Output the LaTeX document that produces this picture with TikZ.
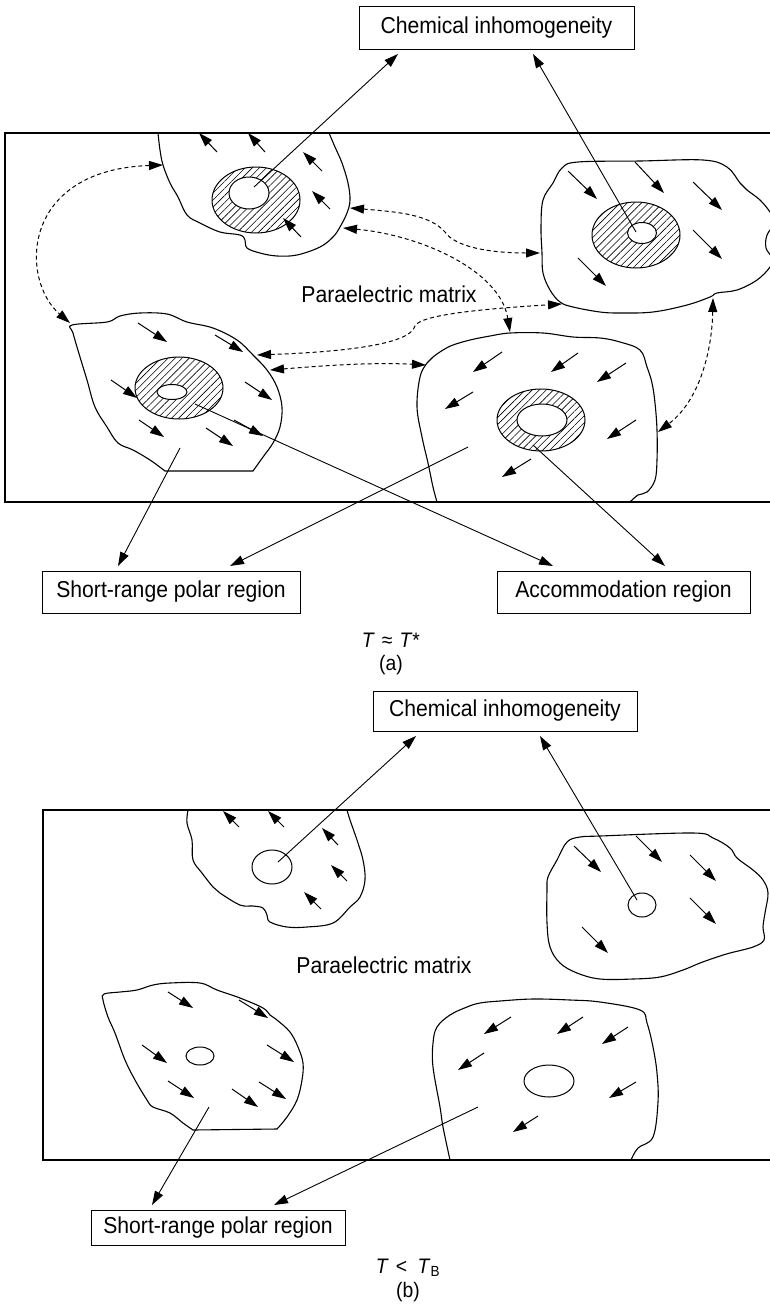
\documentclass[tikz,border=0pt]{standalone}
\usepackage{fontspec}
\setmainfont{Liberation Sans}[FakeStretch=0.92]
\usetikzlibrary{arrows.meta,patterns.meta}

\begin{document}
\begin{tikzpicture}[x=1pt, y=-1pt,
    >={Triangle[length=14pt,width=9pt]},
    txt/.style={font=\fontsize{23}{27}\selectfont},
    captext/.style={font=\fontsize{21}{25}\selectfont},
    box/.style={draw, line width=1pt, txt, inner sep=0pt, outer sep=5pt},
    frame/.style={line width=1.3pt},
    blob/.style={line width=1.1pt},
    pol/.style={->, line width=1pt},
    conn/.style={->, line width=0.9pt},
    link/.style={<->, line width=1pt, dash pattern=on 4pt off 3pt},
    ring/.style={line width=1pt, pattern={Lines[angle=45,distance=5pt,line width=0.6pt]}},
    core/.style={line width=1pt, fill=white}]
    \path[use as bounding box] (0,0) rectangle (770,1304);
    \clip (0,0) rectangle (770,1304);

    % (a) T close to T*
    \draw[frame] (5,133) rectangle (790,502);
    \node[box, minimum width=275pt, minimum height=43pt] (chemA) at (496.5,27.5) {Chemical inhomogeneity};
    \node[box, minimum width=258pt, minimum height=42pt] (shortA) at (171,592) {Short-range polar region};
    \node[box, minimum width=253pt, minimum height=42pt] (accA) at (623.5,592) {Accommodation region};
    \node[txt] (matrixA) at (389,294) {Paraelectric matrix};
    \node[captext] (tempA) at (391,640) {\textit{T}\,\,≈\,\,\textit{T}*};
    \node[captext] (capA) at (391,665) {(a)};

    \draw[blob] plot[smooth, tension=0.6] coordinates {(158,133) (160,150) (163,165) (170,183) (178,197) (187,215) (200,223) (220,232) (240,235) (245,240) (247,248) (260,253) (277,256) (297,255) (320,247) (333,237) (340,227) (347,213) (350,200) (348,183) (342,163) (335,147) (329,133)};
    \draw[blob] plot[smooth cycle, tension=0.6] coordinates {(562,168) (578,162) (640,161) (703,160) (727,167) (740,183) (747,190) (760,200) (770,212) (775,222) (767,235) (766,248) (772,258) (770,267) (757,280) (737,290) (717,293) (710,297) (687,305) (653,312) (620,313) (600,312) (573,307) (560,302) (550,290) (543,273) (542,253) (541,227) (543,200) (553,183)};
    \draw[blob] plot[smooth, tension=0.6] coordinates {(165,471) (150,460) (133,450) (118,443) (107,427) (95,407) (87,380) (80,357) (73,333) (72,325) (107,322) (120,316) (140,313) (167,314) (187,322) (213,328) (237,340) (253,355) (267,370) (277,387) (282,407) (280,427) (273,443) (263,457) (253,471)} -- cycle;
    \draw[blob] plot[smooth, tension=0.6] coordinates {(437,502) (433,487) (428,463) (422,437) (417,407) (420,377) (427,363) (433,357) (443,350) (453,345) (470,340) (490,336) (510,333) (543,333) (573,337) (600,338) (620,342) (640,350) (647,367) (652,383) (655,403) (657,430) (657,460) (655,480) (647,492) (638,495) (630,502)};

    \draw[ring] (256,200) ellipse [x radius=44, y radius=33];
    \draw[core] (249,193) ellipse [x radius=20, y radius=16];
    \draw[ring] (636,235) ellipse [x radius=44, y radius=33];
    \draw[core] (642,233) ellipse [x radius=14.5, y radius=10.5];
    \draw[ring] (179,388) ellipse [x radius=44, y radius=31];
    \draw[core] (172,392) ellipse [x radius=15, y radius=7.5];
    \draw[ring] (541,420) ellipse [x radius=44, y radius=31];
    \draw[core] (542,420) ellipse [x radius=25, y radius=16];

    \path[pol] (217,152) edge (199,133) (265,152) edge (248,133) (322,171) edge (303,152)
        (330,209) edge (312,191) (301,237) edge (283,218);
    \path[pol] (568,171) edge (597,199) (635,162) edge (664,193) (693,182) edge (722,210)
        (693,230) edge (722,259) (578,258) edge (606,286);
    \path[pol] (138,323) edge (167,342) (215,335) edge (243,352) (111,380) edge (137,398)
        (245,382) edge (272,400) (139,420) edge (164,437) (206,428) edge (233,446)
        (234,420) edge (263,436);
    \path[pol] (502,352) edge (473,372) (578,353) edge (551,372) (626,363) edge (597,382)
        (473,392) edge (445,409) (636,420) edge (607,439) (531,459) edge (502,477);

    \coordinate (ciA1) at (254,187);
    \coordinate (ciA2) at (636,232);
    \coordinate (spA1) at (180,448);
    \coordinate (spA2) at (468,447);
    \coordinate (acA1) at (195,404);
    \coordinate (acA2) at (533,445);
    \path[conn] (ciA1) edge ([xshift=-98.5pt]chemA.south)
        (ciA2) edge ([xshift=36.5pt]chemA.south)
        (spA1) edge ([xshift=-53pt]shortA.north)
        (spA2) edge ([xshift=59pt]shortA.north)
        (acA1) edge ([xshift=-70.5pt]accA.north)
        (acA2) edge ([xshift=41.5pt]accA.north);

    \coordinate (tlL) at (163,165);
    \coordinate (tlR1) at (350,208);
    \coordinate (tlR2) at (343,228);
    \coordinate (rL) at (540,253);
    \coordinate (rBL) at (562,304);
    \coordinate (rB) at (713,298);
    \coordinate (blC) at (70,323);
    \coordinate (blR1) at (257,355);
    \coordinate (blR2) at (270,370);
    \coordinate (brT) at (510,332);
    \coordinate (brL) at (426,365);
    \coordinate (brR) at (658,432);
    \draw[link] (tlR1) .. controls (400,212) and (430,215) .. (445,232) .. controls (455,247) and (490,253) .. (rL);
    \draw[link] (tlR2) .. controls (420,235) and (500,270) .. (brT);
    \draw[link] (blR1) .. controls (340,352) and (410,345) .. (415,326) .. controls (420,315) and (480,309) .. (rBL);
    \draw[link] (blR2) .. controls (320,366) and (370,362) .. (brL);
    \draw[link] (tlL) .. controls (20,170) and (20,280) .. (blC);
    \draw[link] (rB) .. controls (712,350) and (700,400) .. (brR);

    % (b) T below T_B
    \draw[frame] (43,810) rectangle (790,1160);
    \node[box, minimum width=264pt, minimum height=40pt] (chemB) at (505,711) {Chemical inhomogeneity};
    \node[box, minimum width=254pt, minimum height=35pt] (shortB) at (218,1227.5) {Short-range polar region};
    \node[txt] (matrixB) at (384,965) {Paraelectric matrix};
    \node[captext] (tempB) at (408,1268) {\textit{T}\,\,<\enspace\textit{T}\textsubscript{B}};
    \node[captext] (capB) at (408,1292) {(b)};

    \draw[blob] plot[smooth, tension=0.6] coordinates {(188,810) (187,823) (192,840) (193,860) (202,873) (213,887) (220,893) (240,905) (253,906) (263,908) (267,915) (270,922) (287,927) (307,927) (333,923) (350,907) (360,897) (365,880) (363,860) (357,840) (350,820) (347,810)};
    \draw[blob] plot[smooth cycle, tension=0.6] coordinates {(567,842) (580,837) (600,836) (693,833) (713,838) (730,848) (737,858) (753,870) (763,880) (768,893) (765,913) (763,927) (764,940) (753,947) (730,953) (717,957) (700,963) (683,970) (660,977) (633,979) (600,979) (577,973) (560,963) (550,947) (547,923) (547,890) (548,877) (557,860)};
    \draw[blob] plot[smooth, tension=0.6] coordinates {(193,1130) (183,1123) (170,1113) (153,1107) (147,1100) (135,1080) (125,1060) (115,1033) (108,1017) (103,1000) (104,994) (120,992) (137,990) (153,985) (170,983) (200,983) (217,990) (240,998) (263,1008) (270,1015) (277,1020) (290,1032) (298,1047) (303,1063) (302,1080) (297,1100) (287,1117) (277,1129)} -- cycle;
    \draw[blob] plot[smooth, tension=0.6] coordinates {(450,1160) (443,1127) (440,1107) (433,1067) (433,1043) (437,1027) (450,1015) (467,1007) (480,1003) (500,1001) (533,999) (570,1000) (600,1002) (640,1010) (647,1023) (653,1047) (657,1073) (658,1102) (653,1137) (638,1148) (631,1160)};

    \draw[core] (272,867) ellipse [x radius=20, y radius=17];
    \draw[core] (642,905) ellipse [x radius=14, y radius=12];
    \draw[core] (200,1056) ellipse [x radius=14, y radius=9];
    \draw[core] (549,1081) ellipse [x radius=25, y radius=16];

    \path[pol] (239,827) edge (223,811) (284,827) edge (268,811) (338,845) edge (322,828)
        (347,881) edge (331,865) (321,909) edge (304,892);
    \path[pol] (574,846) edge (601,872) (636,836) edge (662,862) (690,855) edge (716,881)
        (690,898) edge (716,924) (582,927) edge (608,953);
    \path[pol] (168,992) edge (193,1008) (239,1000) edge (268,1018) (142,1045) edge (167,1063)
        (267,1045) edge (294,1062) (168,1081) edge (194,1098) (232,1089) edge (258,1107)
        (259,1082) edge (286,1099);
    \path[pol] (511,1017) edge (484,1034) (583,1017) edge (557,1034) (628,1027) edge (602,1044)
        (484,1053) edge (458,1070) (636,1082) edge (609,1098) (538,1116) edge (513,1132);

    \coordinate (ciB1) at (278,862);
    \coordinate (ciB2) at (637,900);
    \coordinate (spB1) at (209,1107);
    \coordinate (spB2) at (478,1107);
    \path[conn] (ciB1) edge ([xshift=-89pt]chemB.south)
        (ciB2) edge ([xshift=35pt]chemB.south)
        (spB1) edge ([xshift=-66pt]shortB.north)
        (spB2) edge ([xshift=56pt]shortB.north);
\end{tikzpicture}
\end{document}
